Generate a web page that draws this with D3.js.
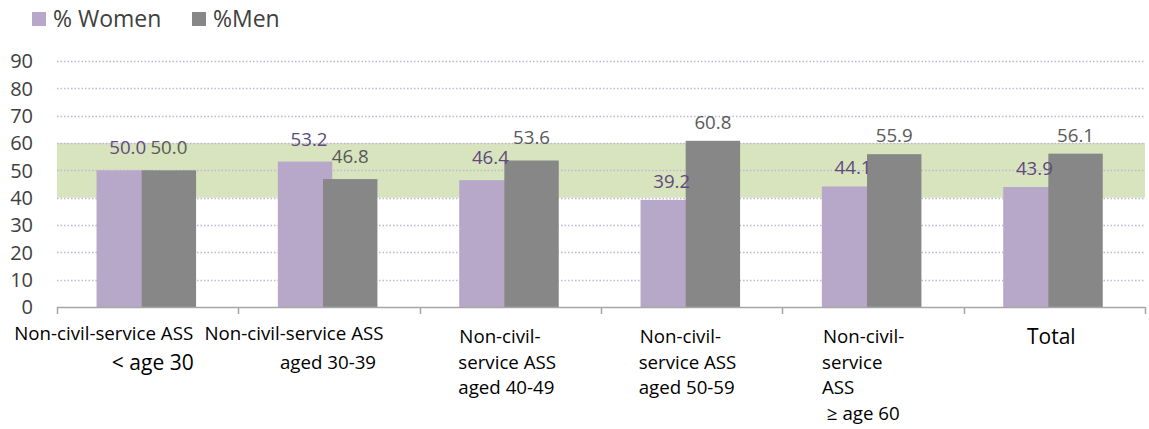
<!DOCTYPE html>
<html>
<head>
<meta charset="utf-8">
<script src="https://cdn.jsdelivr.net/npm/d3@7"></script>
<style>
  html, body { margin: 0; padding: 0; background: #fff; }
  svg { display: block; font-family: "Open Sans", sans-serif; }
</style>
</head>
<body>
<svg id="chart" width="1149" height="429"></svg>
<script>
// ---------- data ----------
const categories = [
  "Non-civil-service ASS < age 30",
  "Non-civil-service ASS aged 30-39",
  "Non-civil-service ASS aged 40-49",
  "Non-civil-service ASS aged 50-59",
  "Non-civil-service ASS ≥ age 60",
  "Total"
];
const categoryLines = [
  ["Non-civil-service ASS", "< age 30"],
  ["Non-civil-service ASS", "aged 30-39"],
  ["Non-civil-", "service ASS", "aged 40-49"],
  ["Non-civil-", "service ASS", "aged 50-59"],
  ["Non-civil-", "service", "ASS", " ≥ age 60"],
  ["Total"]
];
const seriesNames = ["% Women", "%Men"];
const women = [50.0, 53.2, 46.4, 39.2, 44.1, 43.9];
const men   = [50.0, 46.8, 53.6, 60.8, 55.9, 56.1];
const yTicks = [0, 10, 20, 30, 40, 50, 60, 70, 80, 90];
const bandRange = [40, 60];

// ---------- layout / style ----------
const plot = { left: 57, right: 1145, top: 61, bottom: 307 };
const colors = { women: "#b7a8c9", men: "#878787", band: "#d7e4bd", grid: "#c2b5d8",
                 axis: "#a6a6a6", tick: "#404040", wLabel: "#5f4a80", mLabel: "#595959" };
// per-category label placement (Excel-like wrapping)
const xLabelLayout = [
  { anchor: ["middle", "end"], dx: [-44, 46], first: 33, lh: 30, size: [18.7, 21] },
  { anchor: ["middle", "middle"], dx: [-35, -1], first: 33, lh: 29, size: [18.7, 18.7] },
  { anchor: ["start", "start", "start"], dx: [-51, -52, -52], first: 36, lh: 25.7, size: [18.7, 18.7, 18.7] },
  { anchor: ["start", "start", "start"], dx: [-52, -53, -53], first: 36, lh: 25.7, size: [18.7, 18.7, 18.7] },
  { anchor: ["start", "start", "start", "start"], dx: [-50, -51, -51, -51], first: 36, lh: 25.7, size: [18.7, 18.7, 18.7, 18.7] },
  { anchor: ["middle"], dx: [-3], first: 37, lh: 26, size: [21] }
];
const labelGap = [16, 16, 16, 12, 12, 12];

const svg = d3.select("#chart");

const x = d3.scaleBand().domain(categories).range([plot.left, plot.right]).padding(0);
const y = d3.scaleLinear().domain([0, 90]).range([plot.bottom, plot.top]);
const bw = x.bandwidth();
const barW = bw * 0.30;
const wOff = -bw * 0.282;   // women bar left relative to band center
const mOff = -bw * 0.033;   // men bar left relative to band center
const cx = d => x(d) + bw / 2;

// green band
svg.append("rect")
  .attr("x", plot.left).attr("width", plot.right - plot.left)
  .attr("y", y(bandRange[1])).attr("height", y(bandRange[0]) - y(bandRange[1]))
  .attr("fill", colors.band);

// gridlines
svg.append("g").selectAll("line")
  .data(yTicks.filter(t => t > 0))
  .join("line")
  .attr("x1", plot.left).attr("x2", plot.right)
  .attr("y1", d => Math.round(y(d)) + 0.5).attr("y2", d => Math.round(y(d)) + 0.5)
  .attr("stroke", colors.grid).attr("stroke-width", 1.3)
  .attr("stroke-dasharray", "1.5,2");

// y tick labels
svg.append("g").selectAll("text")
  .data(yTicks)
  .join("text")
  .attr("x", 33).attr("y", d => y(d))
  .attr("dy", "0.36em")
  .attr("text-anchor", "end")
  .attr("font-size", 20).attr("fill", colors.tick)
  .text(d => d);

// bars
const wData = categories.map((c, i) => ({ c, v: women[i], i }));
const mData = categories.map((c, i) => ({ c, v: men[i], i }));

svg.append("g").selectAll("rect")
  .data(wData).join("rect")
  .attr("x", d => cx(d.c) + wOff).attr("width", barW)
  .attr("y", d => y(d.v)).attr("height", d => y(0) - y(d.v))
  .attr("fill", colors.women);

svg.append("g").selectAll("rect")
  .data(mData).join("rect")
  .attr("x", d => cx(d.c) + mOff).attr("width", barW)
  .attr("y", d => y(d.v)).attr("height", d => y(0) - y(d.v))
  .attr("fill", colors.men);

// x axis line + ticks
const axisG = svg.append("g");
axisG.append("line")
  .attr("x1", plot.left).attr("x2", plot.right)
  .attr("y1", plot.bottom + 0.5).attr("y2", plot.bottom + 0.5)
  .attr("stroke", colors.axis).attr("stroke-width", 1.5);
const bounds = categories.map(c => x(c)).concat([x(categories[categories.length - 1]) + bw]);
axisG.selectAll("line.tk").data(bounds).join("line").attr("class", "tk")
  .attr("x1", d => Math.round(d) + 0.5).attr("x2", d => Math.round(d) + 0.5)
  .attr("y1", plot.bottom).attr("y2", plot.bottom + 7)
  .attr("stroke", colors.axis).attr("stroke-width", 1.5);

// data labels
svg.append("g").selectAll("text")
  .data(wData).join("text")
  .attr("x", d => cx(d.c) + wOff + barW / 2 + 4)
  .attr("y", d => y(d.v) - labelGap[d.i])
  .attr("text-anchor", "middle").attr("font-size", 18.7).attr("fill", colors.wLabel)
  .text(d => d.v.toFixed(1));

svg.append("g").selectAll("text")
  .data(mData).join("text")
  .attr("x", d => cx(d.c) + mOff + barW / 2)
  .attr("y", d => y(d.v) - labelGap[d.i])
  .attr("text-anchor", "middle").attr("font-size", 18.7).attr("fill", colors.mLabel)
  .text(d => d.v.toFixed(1));

// x category labels
const xl = svg.append("g");
categories.forEach((c, i) => {
  const L = xLabelLayout[i];
  categoryLines[i].forEach((line, j) => {
    xl.append("text")
      .attr("x", cx(c) + L.dx[j])
      .attr("y", plot.bottom + L.first + j * L.lh)
      .attr("text-anchor", L.anchor[j])
      .attr("font-size", L.size[j]).attr("fill", "#000")
      .style("white-space", "pre")
      .text(line);
  });
});

// legend
const legend = svg.append("g");
const legendItems = [
  { name: seriesNames[0], color: colors.women, x: 32 },
  { name: seriesNames[1], color: colors.men, x: 192 }
];
legendItems.forEach(it => {
  legend.append("rect").attr("x", it.x).attr("y", 12).attr("width", 14).attr("height", 14).attr("fill", it.color);
  legend.append("text").attr("x", it.x + 21).attr("y", 19).attr("dy", "0.36em")
    .attr("font-size", 23).attr("fill", colors.tick).text(it.name);
});
</script>
</body>
</html>
